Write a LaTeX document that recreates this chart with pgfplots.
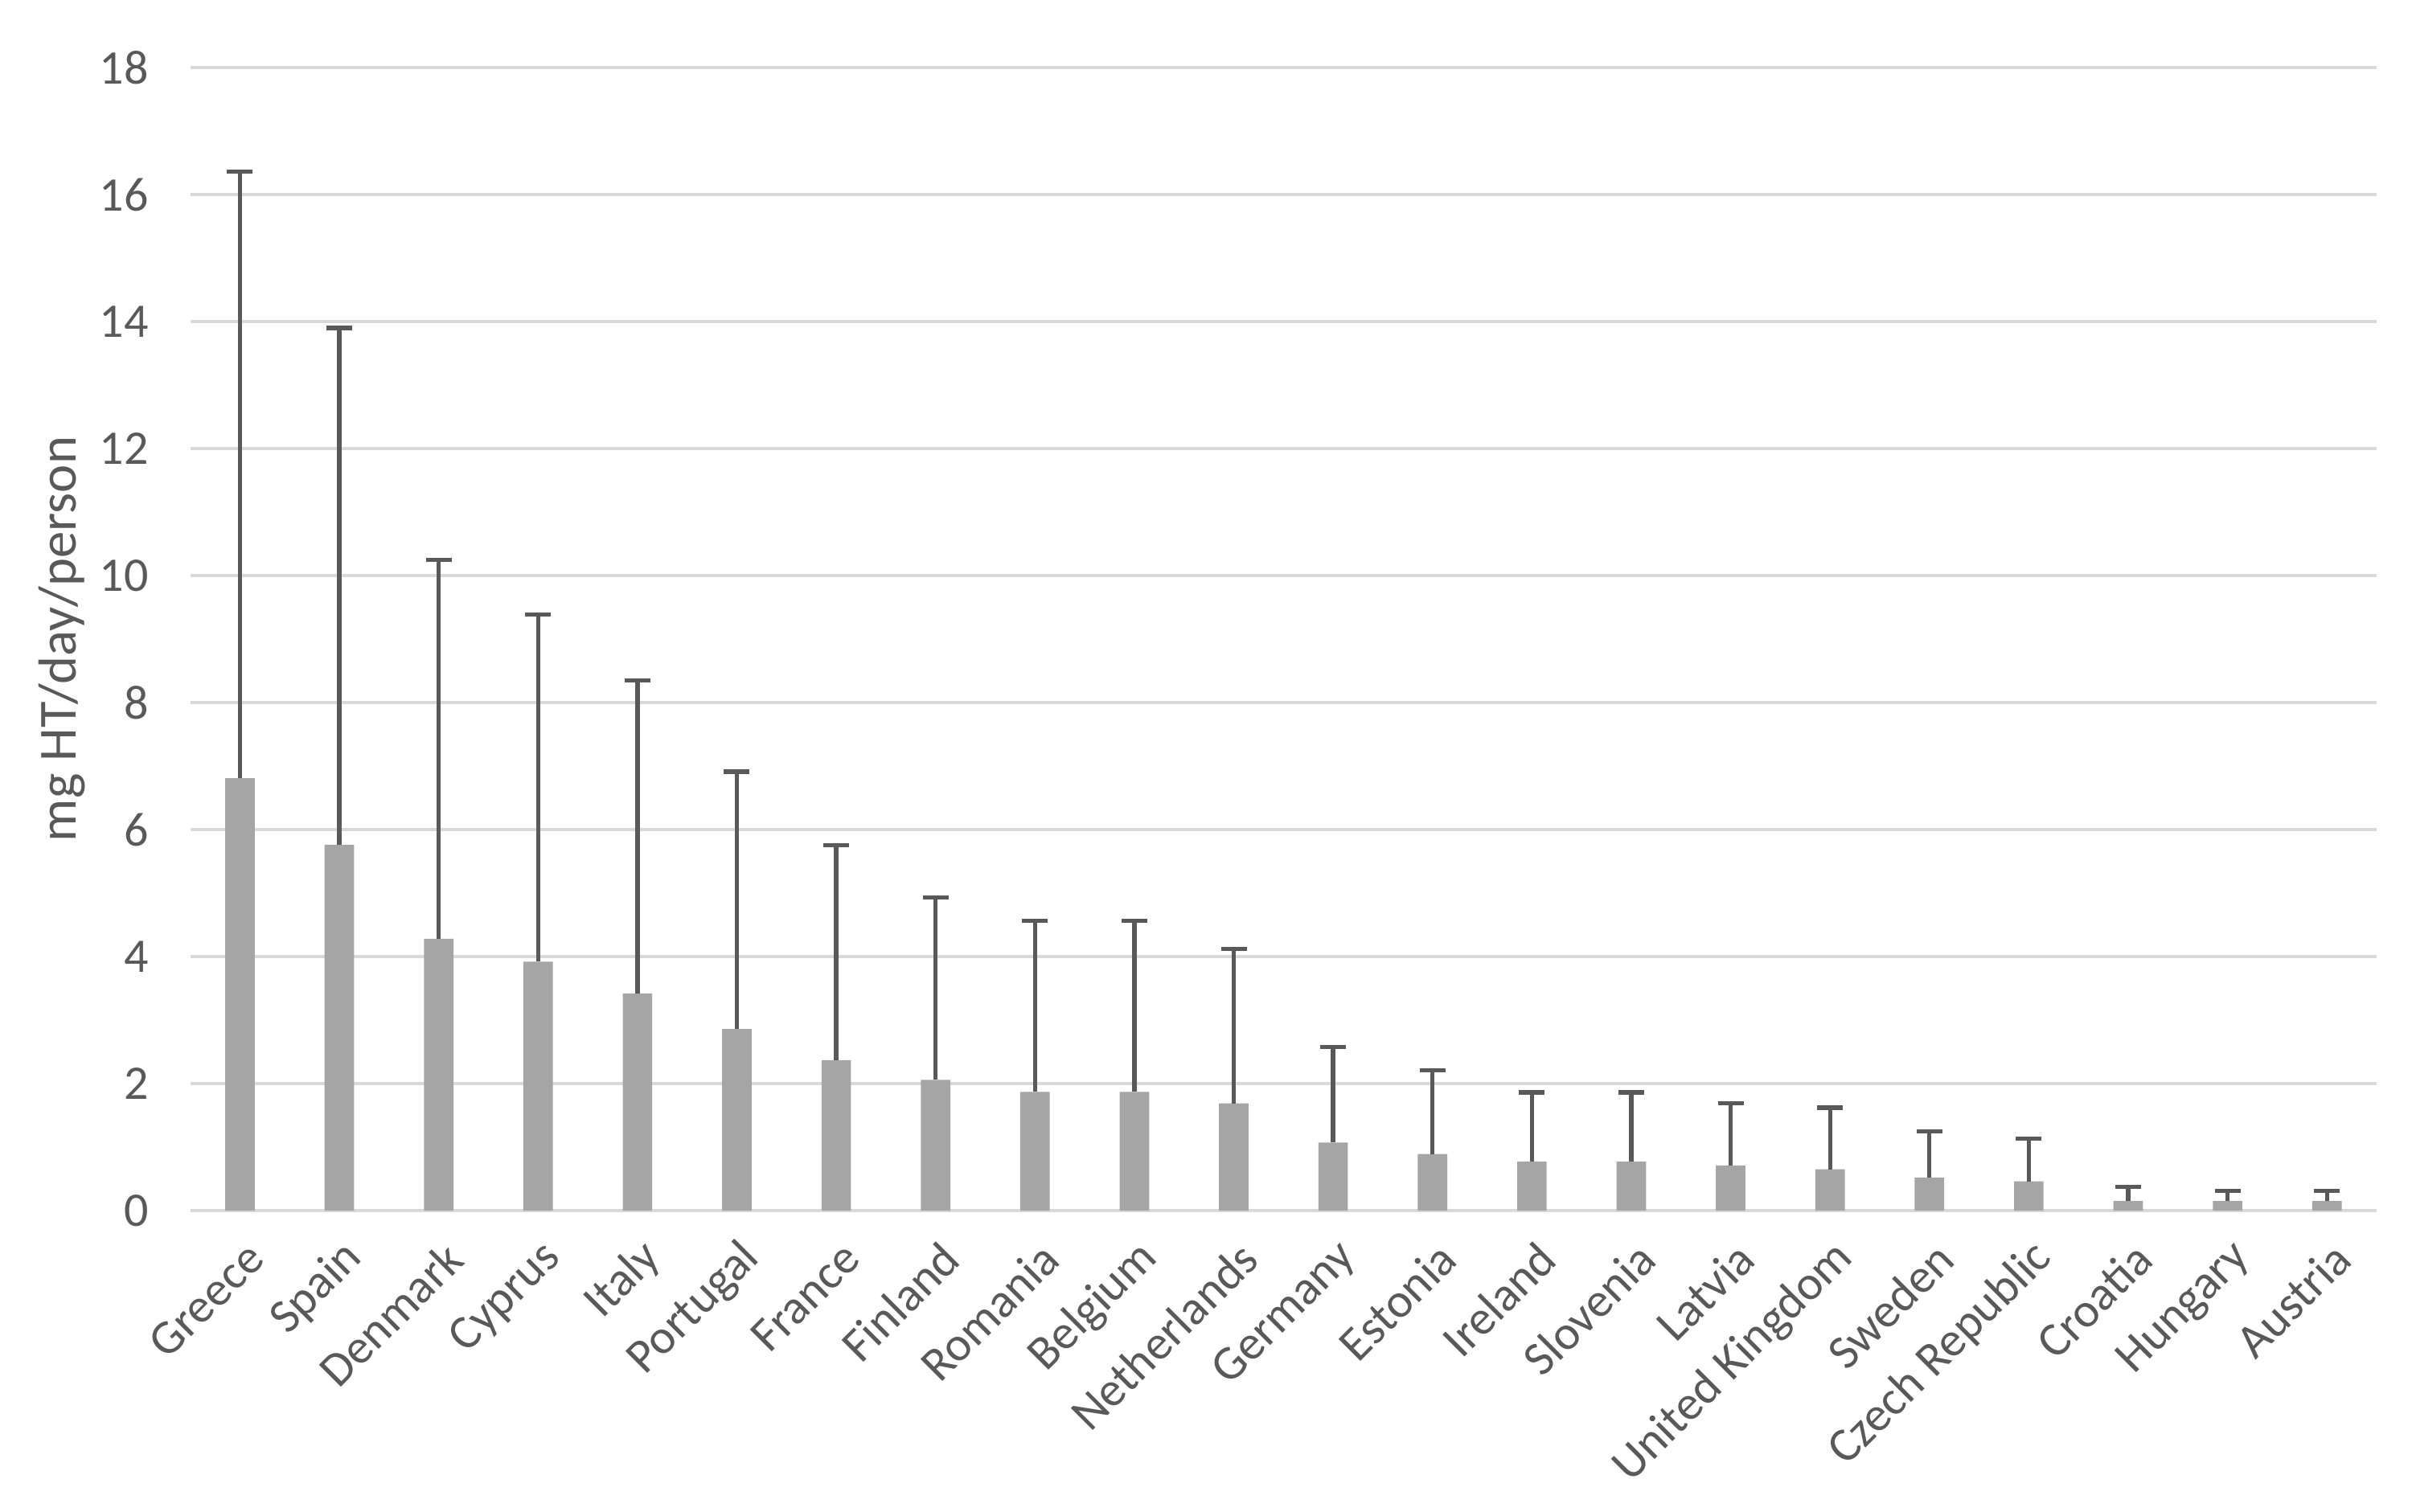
\documentclass[border=0pt]{standalone}
\usepackage{pgfplots}
\pgfplotsset{compat=1.18}
\usepackage{pgfplotstable}
\usepackage{fontspec}
\setmainfont{Carlito}
\definecolor{bargray}{HTML}{A5A5A5}
\definecolor{errgray}{HTML}{595959}
\definecolor{gridgray}{HTML}{D9D9D9}
\definecolor{textgray}{HTML}{595959}

\pgfplotstableread{
x y err
0 6.81 9.55
1 5.76 8.14
2 4.28 5.97
3 3.92 5.47
4 3.42 4.93
5 2.86 4.05
6 2.37 3.38
7 2.06 2.87
8 1.87 2.69
9 1.87 2.69
10 1.69 2.43
11 1.07 1.51
12 0.89 1.32
13 0.77 1.09
14 0.77 1.09
15 0.71 0.98
16 0.65 0.97
17 0.52 0.73
18 0.46 0.67
19 0.15 0.22
20 0.15 0.16
21 0.15 0.16
}\datatable

\begin{document}
\begin{tikzpicture}
\useasboundingbox (-35.5pt,-56.1pt) rectangle (414.5pt,225.9pt);
\begin{axis}[
 scale only axis, width=407.9pt, height=213.3pt,
 xmin=-0.5, xmax=21.5, ymin=0, ymax=18,
 ytick={0,2,...,18},
 xtick={0,...,21},
 xticklabels={Greece,Spain,Denmark,Cyprus,Italy,Portugal,France,Finland,Romania,Belgium,Netherlands,Germany,Estonia,Ireland,Slovenia,Latvia,United Kingdom,Sweden,Czech Republic,Croatia,Hungary,Austria},
 axis line style={draw=none},
 major tick length=0pt,
 ymajorgrids, grid style={gridgray, line width=0.5pt},
 tick label style={font=\fontsize{9}{10}\selectfont, text=textgray},
 /pgf/number format/assume math mode=true,
 yticklabel style={anchor=east, inner sep=0pt, xshift=-7.6pt},
 xticklabel style={inner sep=0pt, xshift=3pt, yshift=-7.4pt, rotate=45, anchor=east},
 ylabel={mg HT/day/person},
 ylabel style={at={(axis description cs:-0.0588,0.5)}, anchor=center, font=\fontsize{10}{12}\selectfont, text=textgray},
]
\addplot[ybar, bar width=5.5pt, fill=bargray, draw=none,
  error bars/.cd, y dir=plus, y explicit,
  error bar style={line width=0.8pt, errgray},
  error mark options={rotate=90, mark size=2.4pt, line width=0.8pt, errgray}]
  table[x=x, y=y, y error=err]{\datatable};
\end{axis}
\end{tikzpicture}
\end{document}
